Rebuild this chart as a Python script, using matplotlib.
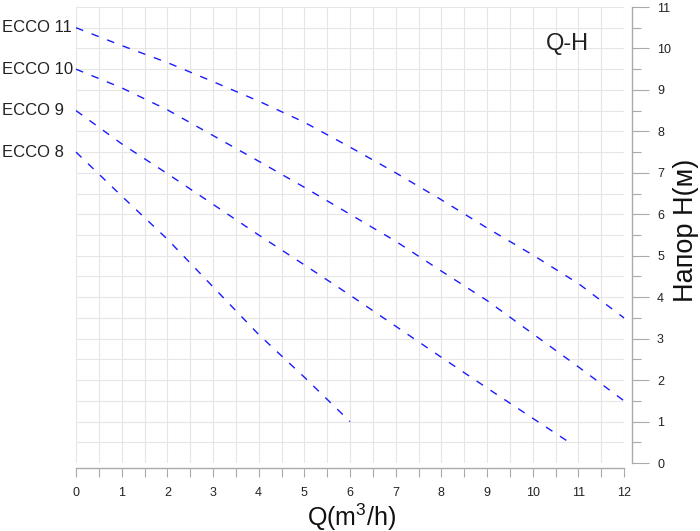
import numpy as np
import matplotlib
matplotlib.use('Agg')
import matplotlib.pyplot as plt
from matplotlib.ticker import MultipleLocator
import matplotlib.transforms as mtransforms

plt.rcParams['font.family'] = ['Liberation Sans', 'DejaVu Sans']
plt.rcParams['mathtext.fontset'] = 'custom'
plt.rcParams['mathtext.rm'] = 'Liberation Sans'
plt.rcParams['mathtext.it'] = 'Liberation Sans:italic'

# Q-H curves
q_11 = [0, 1, 2, 3, 4, 5, 6, 7, 8, 9, 10, 11, 12]
h_11 = [10.5, 10.07, 9.66, 9.2, 8.73, 8.22, 7.62, 7.0, 6.35, 5.67, 5.02, 4.33, 3.5]

q_10 = [0, 1, 2, 3, 4, 5, 6, 7, 8, 9, 10, 11, 12]
h_10 = [9.5, 9.05, 8.52, 7.9, 7.28, 6.65, 6.0, 5.35, 4.63, 3.92, 3.12, 2.32, 1.5]

q_9 = [0, 1, 2, 3, 4, 5, 6, 7, 8, 9, 10, 10.8]
h_9 = [8.5, 7.7, 6.98, 6.24, 5.5, 4.78, 4.05, 3.3, 2.55, 1.81, 1.08, 0.5]

q_8 = [0, 1, 2, 3, 4, 5, 6]
h_8 = [7.5, 6.44, 5.4, 4.25, 3.1, 2.07, 1.0]

names = ['ECCO 11', 'ECCO 10', 'ECCO 9', 'ECCO 8']
curves = [(q_11, h_11), (q_10, h_10), (q_9, h_9), (q_8, h_8)]

fig = plt.figure(figsize=(7.0, 5.31), dpi=100)
ax = fig.add_axes([76 / 700, 68 / 531, 548 / 700, 456 / 531])

for (q, h) in curves:
    ax.plot(q, h, color='#1a1aff', lw=1.0, dashes=(5.5, 6.5), clip_on=False)

# series names at the left edge of the figure, level with each curve start
trans = mtransforms.blended_transform_factory(fig.transFigure, ax.transData)
for name, (q, h) in zip(names, curves):
    ax.text(2 / 700, h[0], name, transform=trans, ha='left', va='center',
            fontsize=12, color='#222222')

ax.text(10.3, 10.1, 'Q-H', ha='left', va='center', fontsize=17, color='#222222')

ax.set_xlim(0, 12)
ax.set_ylim(0, 11)

ax.xaxis.set_major_locator(MultipleLocator(1))
ax.xaxis.set_minor_locator(MultipleLocator(0.5))
ax.yaxis.set_major_locator(MultipleLocator(1))
ax.yaxis.set_minor_locator(MultipleLocator(0.5))

ax.grid(which='both', color='#e6e6e6', lw=0.8)
ax.set_axisbelow(True)

for side in ('left', 'top'):
    ax.spines[side].set_visible(False)
ax.spines['bottom'].set_position(('outward', 3.6))
ax.spines['right'].set_position(('outward', 5.8))
for side in ('bottom', 'right'):
    ax.spines[side].set_color('#aaaaaa')
    ax.spines[side].set_linewidth(1.0)

ax.yaxis.tick_right()
ax.tick_params(axis='x', which='both', length=6.5, width=0.8, color='#aaaaaa',
               labelsize=9, labelcolor='#222222', pad=7)
ax.tick_params(axis='y', which='major', length=12, width=0.8, color='#aaaaaa',
               labelsize=9, labelcolor='#222222', pad=6)
ax.tick_params(axis='y', which='minor', length=6.5, width=0.8, color='#aaaaaa')

ax.set_xlabel('Q(m$^3$/h)', fontsize=18, color='#111111', va='center')
ax.xaxis.set_label_coords(0.503, -0.118)
ax.yaxis.set_label_position('right')
ax.set_ylabel('Напор H(м)', fontsize=19.5, color='#111111', rotation=90,
              va='center', ha='center')
ax.yaxis.set_label_coords(1.113, 0.511)

fig.savefig('out.png', dpi=100)
